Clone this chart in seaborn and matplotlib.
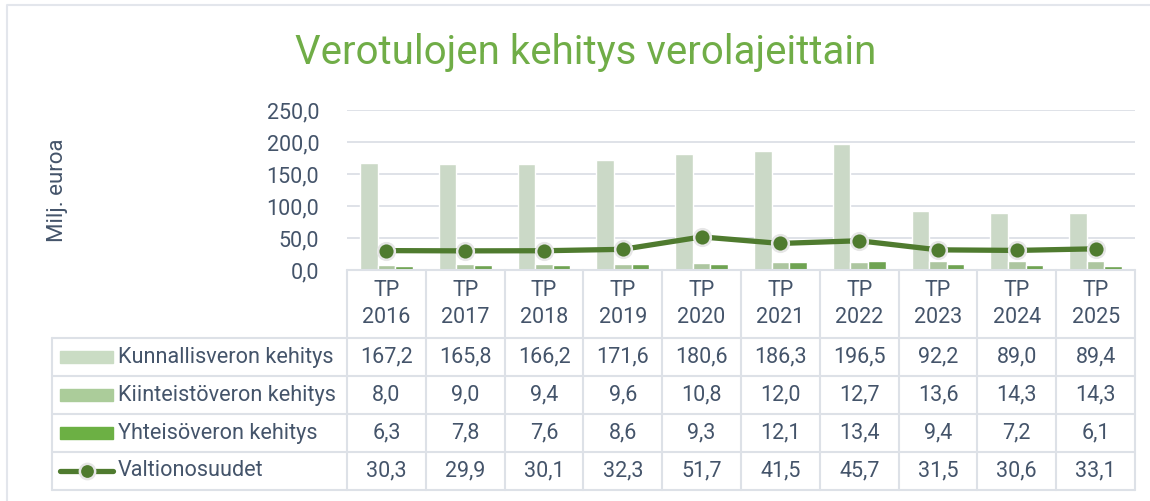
import matplotlib
matplotlib.use("Agg")
import matplotlib.pyplot as plt
import matplotlib.transforms as mtransforms
from matplotlib.lines import Line2D
from matplotlib.patches import Rectangle
import seaborn as sns
import pandas as pd

years = ["2016", "2017", "2018", "2019", "2020", "2021", "2022", "2023", "2024", "2025"]
kunnallisvero = [167.2, 165.8, 166.2, 171.6, 180.6, 186.3, 196.5, 92.2, 89.0, 89.4]
kiinteistovero = [8.0, 9.0, 9.4, 9.6, 10.8, 12.0, 12.7, 13.6, 14.3, 14.3]
yhteisovero = [6.3, 7.8, 7.6, 8.6, 9.3, 12.1, 13.4, 9.4, 7.2, 6.1]
valtionosuudet = [30.3, 29.9, 30.1, 32.3, 51.7, 41.5, 45.7, 31.5, 30.6, 33.1]

bar_series = ["Kunnallisveron kehitys", "Kiinteistöveron kehitys", "Yhteisöveron kehitys"]
line_series = "Valtionosuudet"
bar_colors = ["#cadcc4", "#abcc9a", "#6cb044"]
line_color = "#4f7b2f"
text_color = "#44546a"
grid_color = "#dfe2e8"

sns.set_style("white")
plt.rcParams["font.family"] = ["Roboto", "DejaVu Sans"]

labels = ["TP\n" + y for y in years]
bars = pd.DataFrame({
    "Vuosi": labels * 3,
    "Sarja": [s for s in bar_series for _ in years],
    "Arvo": kunnallisvero + kiinteistovero + yhteisovero,
})

W, H = 1150, 501
fig = plt.figure(figsize=(W / 100, H / 100), dpi=100)
ax = fig.add_axes([347 / W, 1 - 270 / H, (1135 - 347) / W, 160 / H])

sns.barplot(data=bars, x="Vuosi", y="Arvo", hue="Sarja", palette=bar_colors,
            width=0.67, ax=ax, legend=False, zorder=2)
ax.plot(range(len(years)), valtionosuudet, color=line_color, lw=3.8, marker="o",
        markersize=12, markerfacecolor=line_color, markeredgecolor="#e6e6e6",
        markeredgewidth=1.8, zorder=4, solid_capstyle="round")

ax.set_xlim(-0.5, len(years) - 0.5)
ax.set_ylim(0, 250)
ax.set_yticks(range(0, 251, 50))
ax.set_yticklabels([f"{v:.1f}".replace(".", ",") for v in range(0, 251, 50)],
                   fontsize=15.5, color=text_color)
ax.tick_params(axis="y", length=0, pad=20)
ax.set_xticks([])
ax.set_xlabel("")
ax.set_ylabel("")
ax.yaxis.grid(True, color=grid_color, lw=1.4, zorder=0)
for sp in ax.spines.values():
    sp.set_visible(False)

fig.text(586 / W, 1 - 52 / H, "Verotulojen kehitys verolajeittain", ha="center", va="center",
         fontsize=29, color="#70ad47")
fig.text(58 / W, 1 - 190 / H, "Milj. euroa", rotation=90, ha="center", va="center",
         fontsize=16, color=text_color)

# data table below the axis
tr = mtransforms.blended_transform_factory(ax.transData, fig.transFigure)
py = lambda p: 1 - p / H
px = lambda p: p / W
tcol = "#dde1e7"
lw_t = 1.5
row_edges = [338, 376, 414, 452, 490]
fig.add_artist(Line2D([-0.5, len(years) - 0.5], [py(270), py(270)], transform=tr, color=tcol, lw=lw_t))
for yy in row_edges:
    fig.add_artist(Line2D([px(52), px(1135)], [py(yy), py(yy)], color=tcol, lw=lw_t))
fig.add_artist(Line2D([px(52), px(52)], [py(338), py(490)], color=tcol, lw=lw_t))
for i in range(len(years) + 1):
    xi = i - 0.5
    fig.add_artist(Line2D([xi, xi], [py(270), py(490)], transform=tr, color=tcol, lw=lw_t))

for i, lab in enumerate(labels):
    fig.text(i, py(304), lab, transform=tr, ha="center", va="center", fontsize=15.5,
             color=text_color, linespacing=1.4)

rows = [(bar_series[0], kunnallisvero), (bar_series[1], kiinteistovero),
        (bar_series[2], yhteisovero), (line_series, valtionosuudet)]
for r, (name, vals) in enumerate(rows):
    yc = (row_edges[r] + row_edges[r + 1]) / 2
    for i, v in enumerate(vals):
        fig.text(i, py(yc), f"{v:.1f}".replace(".", ","), transform=tr, ha="center",
                 va="center", fontsize=15.5, color=text_color)
    fig.text(px(118), py(yc), name, ha="left", va="center", fontsize=15.6, color=text_color)
    if r < 3:
        fig.add_artist(Rectangle((px(60), py(yc + 6)), px(53), 12 / H, color=bar_colors[r]))
    else:
        fig.add_artist(Line2D([px(60), px(113)], [py(yc), py(yc)], color=line_color, lw=3.8,
                              solid_capstyle="round"))
        fig.add_artist(Line2D([px(87)], [py(yc)], marker="o", markersize=11, color=line_color,
                              markeredgecolor="#e6e6e6", markeredgewidth=1.8))

# chart frame
fig.add_artist(Line2D([px(7), px(7), px(1160)], [py(510), py(5), py(5)], color="#e3e6ec", lw=1.5))

fig.savefig("out.png", dpi=100)
